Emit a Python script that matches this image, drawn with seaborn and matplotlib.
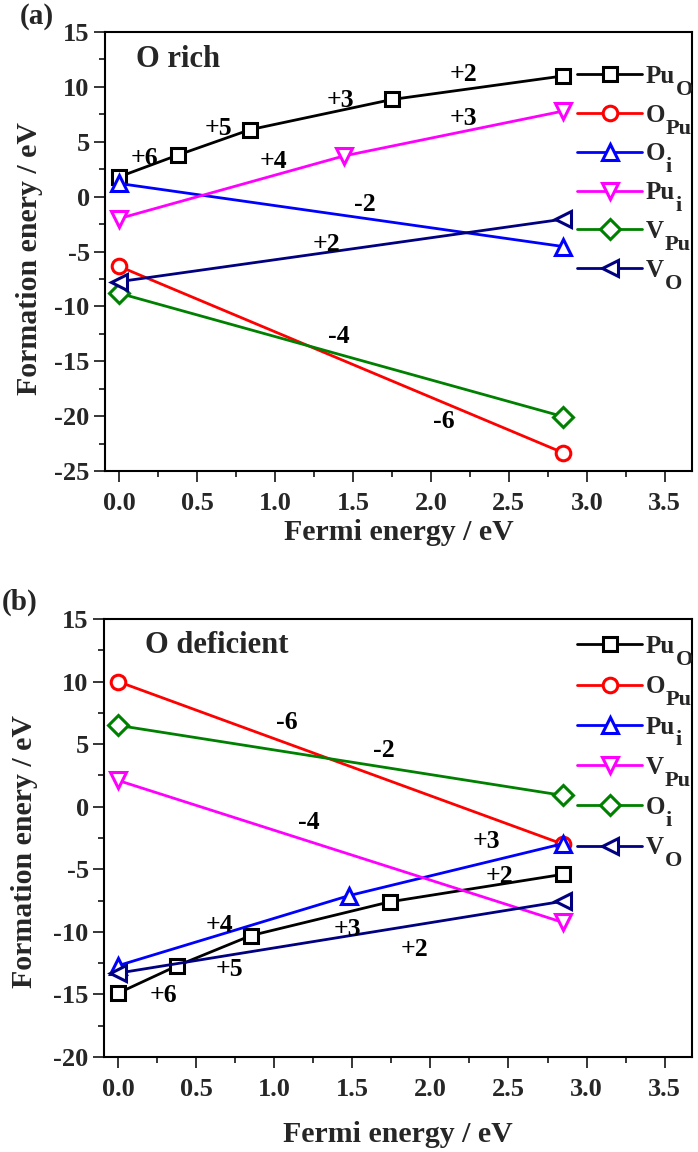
import matplotlib
matplotlib.use("Agg")
import matplotlib.pyplot as plt
from matplotlib.ticker import MultipleLocator
import seaborn as sns
import pandas as pd

# ---------------- data ----------------
# Panel (a): O rich
a_names = ["Pu", "O", "O", "Pu", "V", "V"]
a_subs = ["O", "Pu", "i", "i", "Pu", "O"]
a_PuO_x = [0.0, 0.38, 0.84, 1.75, 2.85]
a_PuO_y = [1.8, 3.8, 6.1, 8.85, 11.0]
a_OPu_x = [0.0, 2.85]
a_OPu_y = [-6.35, -23.35]
a_Oi_x = [0.0, 2.85]
a_Oi_y = [1.2, -4.55]
a_Pui_x = [0.0, 1.44, 2.85]
a_Pui_y = [-2.0, 3.7, 7.8]
a_VPu_x = [0.0, 2.85]
a_VPu_y = [-8.8, -20.05]
a_VO_x = [0.0, 2.85]
a_VO_y = [-7.75, -2.05]
a_lab_text = ["+6", "+5", "+3", "+2", "+4", "+3", "-2", "+2", "-4", "-6"]
a_lab_x = [0.16, 0.64, 1.42, 2.21, 0.99, 2.21, 1.58, 1.33, 1.41, 2.08]
a_lab_y = [3.5, 6.2, 8.8, 11.1, 3.2, 7.15, -0.75, -4.4, -12.7, -20.5]

# Panel (b): O deficient
b_names = ["Pu", "O", "Pu", "V", "O", "V"]
b_subs = ["O", "Pu", "i", "Pu", "i", "O"]
b_PuO_x = [0.0, 0.38, 0.85, 1.74, 2.85]
b_PuO_y = [-14.9, -12.7, -10.3, -7.6, -5.4]
b_OPu_x = [0.0, 2.85]
b_OPu_y = [10.0, -3.0]
b_Pui_x = [0.0, 1.48, 2.85]
b_Pui_y = [-12.7, -7.1, -2.95]
b_VPu_x = [0.0, 2.85]
b_VPu_y = [2.1, -9.25]
b_Oi_x = [0.0, 2.85]
b_Oi_y = [6.5, 0.9]
b_VO_x = [0.0, 2.85]
b_VO_y = [-13.3, -7.55]
b_lab_text = ["-6", "-2", "-4", "+3", "+2", "+4", "+3", "+2", "+5", "+6"]
b_lab_x = [1.08, 1.70, 1.22, 2.36, 2.44, 0.65, 1.47, 1.90, 0.71, 0.29]
b_lab_y = [6.7, 4.5, -1.3, -2.8, -5.6, -9.5, -9.8, -11.4, -13.0, -15.1]

# ---------------- style ----------------
sns.set_style("ticks")
FONT = ["Liberation Serif", "DejaVu Serif"]
plt.rcParams["font.family"] = FONT
plt.rcParams["font.weight"] = "bold"
plt.rcParams["axes.labelweight"] = "bold"

colors = ["#000000", "#FF0000", "#0000FF", "#FF00FF", "#008000", "#000080"]
markers = ["s", "o", "^", "v", "D", "<"]
msizes = [10, 10.5, 11, 11, 10, 11]

fig = plt.figure(figsize=(6.98, 11.52), dpi=100)
W, H = 698.0, 1152.0
ax_a = fig.add_axes([105 / W, 1 - 471 / H, (692 - 105) / W, (471 - 32) / H])
ax_b = fig.add_axes([104 / W, 1 - 1057 / H, (692 - 104) / W, (1057 - 619) / H])


def draw_panel(ax, series, names, subs, lab_text, lab_x, lab_y, ylim, title,
               title_xy, legend_top, legend_pitch):
    for i, (xs, ys) in enumerate(series):
        df = pd.DataFrame({"x": xs, "y": ys})
        sns.lineplot(data=df, x="x", y="y", ax=ax, color=colors[i],
                     marker=markers[i], markersize=msizes[i],
                     markerfacecolor="white", markeredgecolor=colors[i],
                     markeredgewidth=2.2, linewidth=2.0, label=names[i],
                     sort=False, estimator=None)
    for t, x, y in zip(lab_text, lab_x, lab_y):
        ax.text(x, y, t, ha="center", va="center", fontsize=18.5,
                fontweight="bold", color="black")
    ax.text(title_xy[0], title_xy[1], title, ha="left", va="center",
            fontsize=22, fontweight="bold")
    ax.set_xlim(-0.09, 3.675)
    ax.set_ylim(*ylim)
    ax.xaxis.set_major_locator(MultipleLocator(0.5))
    ax.xaxis.set_minor_locator(MultipleLocator(0.25))
    ax.yaxis.set_major_locator(MultipleLocator(5))
    ax.yaxis.set_minor_locator(MultipleLocator(2.5))
    ax.xaxis.set_major_formatter(plt.FuncFormatter(lambda v, p: f"{v:.1f}"))
    ax.yaxis.set_major_formatter(plt.FuncFormatter(lambda v, p: f"{v:.0f}"))
    ax.tick_params(which="major", direction="out", length=8, width=1.3,
                   labelsize=19, pad=3)
    ax.tick_params(axis="x", which="major", pad=7)
    ax.tick_params(which="minor", direction="out", length=4.5, width=1.3)
    ax.tick_params(top=False, right=False, which="both")
    for s in ax.spines.values():
        s.set_visible(True)
        s.set_linewidth(1.5)
        s.set_color("black")
    for lbl in ax.get_xticklabels() + ax.get_yticklabels():
        lbl.set_fontweight("bold")
    ax.set_ylabel("Formation enery / eV", fontsize=21.5, fontweight="bold")
    ax.set_xlabel("Fermi energy / eV", fontsize=21.5, fontweight="bold")
    ax.grid(False)
    leg = ax.legend(loc="upper left",
                    bbox_to_anchor=(577 / W, 1 - legend_top / H),
                    bbox_transform=fig.transFigure, frameon=False,
                    fontsize=18, handlelength=2.6, handletextpad=0.15,
                    labelspacing=legend_pitch, borderpad=0, borderaxespad=0)
    for txt, sub in zip(leg.get_texts(), subs):
        txt.set_fontweight("bold")
        ax.annotate(sub, xy=(1.0, 0.35), xycoords=txt, xytext=(0.5, 0),
                    textcoords="offset points", ha="left", va="top",
                    fontsize=16, fontweight="bold", zorder=10,
                    annotation_clip=False)
    return ax


series_a = [(a_PuO_x, a_PuO_y), (a_OPu_x, a_OPu_y), (a_Oi_x, a_Oi_y),
            (a_Pui_x, a_Pui_y), (a_VPu_x, a_VPu_y), (a_VO_x, a_VO_y)]
series_b = [(b_PuO_x, b_PuO_y), (b_OPu_x, b_OPu_y), (b_Pui_x, b_Pui_y),
            (b_VPu_x, b_VPu_y), (b_Oi_x, b_Oi_y), (b_VO_x, b_VO_y)]

draw_panel(ax_a, series_a, a_names, a_subs, a_lab_text, a_lab_x, a_lab_y,
           (-25, 15), "O rich", (0.11, 12.5), 65, 0.63)
draw_panel(ax_b, series_b, b_names, b_subs, b_lab_text, b_lab_x, b_lab_y,
           (-20, 15), "O deficient", (0.17, 12.9), 635, 0.69)

ax_a.xaxis.label.set_va("center")
ax_a.xaxis.set_label_coords(0.5, -0.139)
ax_b.xaxis.label.set_va("center")
ax_b.xaxis.set_label_coords(0.5, -0.178)
ax_a.yaxis.label.set_va("center")
ax_a.yaxis.set_label_coords(-0.128, 0.485)
ax_b.yaxis.label.set_va("center")
ax_b.yaxis.set_label_coords(-0.135, 0.47)

fig.text(20 / W, 1 - 16 / H, "(a)", ha="left", va="center", fontsize=21,
         fontweight="bold")
fig.text(2 / W, 1 - 602 / H, "(b)", ha="left", va="center", fontsize=21,
         fontweight="bold")

fig.savefig("out.png", dpi=100)
